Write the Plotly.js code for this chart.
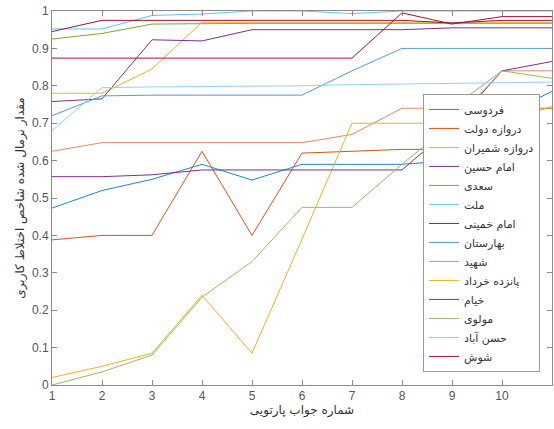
<!DOCTYPE html>
<html>
<head>
<meta charset="utf-8">
<script src="https://cdn.plot.ly/plotly-3.0.1.min.js"></script>
<style>html,body{margin:0;padding:0;background:#fff;} #chart{width:554px;height:429px;}</style>
</head>
<body>
<div id="chart"></div>
<script>
// x: Pareto answer number
const xValues = [1, 2, 3, 4, 5, 6, 7, 8, 9, 10, 11];

// station names (legend order)
const stationNames = [
  "فردوسی", "دروازه دولت", "دروازه شمیران", "امام حسین", "سعدی", "ملت", "امام خمینی",
  "بهارستان", "شهید", "پانزده خرداد", "خیام", "مولوی", "حسن آباد", "شوش"
];

// normalized land-use mix index per station
const ferdowsi      = [0.473, 0.52, 0.55, 0.59, 0.548, 0.59, 0.59, 0.59, 0.60, 0.72, 0.785];
const darvazehDowlat= [0.388, 0.40, 0.40, 0.625, 0.40, 0.62, 0.625, 0.63, 0.63, 0.74, 0.74];
const darvazehShemiran=[0.78, 0.78, 0.845, 0.97, 0.97, 0.97, 0.97, 0.97, 0.97, 0.97, 0.97];
const emamHossein   = [0.758, 0.765, 0.923, 0.92, 0.95, 0.95, 0.95, 0.95, 0.955, 0.955, 0.955];
const saadi         = [0.925, 0.94, 0.965, 0.967, 0.967, 0.967, 0.967, 0.967, 0.967, 0.967, 0.967];
const mellat        = [0.952, 0.952, 0.988, 0.992, 1.0, 1.0, 0.993, 1.0, 1.0, 1.0, 1.0];
const emamKhomeini  = [0.945, 0.975, 0.975, 0.975, 0.975, 0.975, 0.975, 0.975, 0.968, 0.975, 0.975];
const baharestan    = [0.72, 0.773, 0.775, 0.775, 0.775, 0.775, 0.84, 0.90, 0.90, 0.90, 0.90];
const shahid        = [0.625, 0.648, 0.648, 0.648, 0.648, 0.648, 0.67, 0.74, 0.74, 0.84, 0.84];
const panzdahKhordad= [0.02, 0.05, 0.085, 0.24, 0.085, 0.39, 0.70, 0.70, 0.70, 0.70, 0.745];
const khayyam       = [0.557, 0.557, 0.562, 0.575, 0.575, 0.575, 0.575, 0.575, 0.69, 0.84, 0.865];
const molavi        = [0.0, 0.035, 0.08, 0.235, 0.33, 0.475, 0.475, 0.59, 0.70, 0.84, 0.82];
const hasanAbad     = [0.68, 0.795, 0.797, 0.798, 0.80, 0.80, 0.803, 0.805, 0.805, 0.807, 0.81];
const shoush        = [0.874, 0.874, 0.874, 0.874, 0.874, 0.874, 0.874, 0.995, 0.965, 0.985, 0.985];

const seriesValues = [ferdowsi, darvazehDowlat, darvazehShemiran, emamHossein, saadi, mellat, emamKhomeini,
  baharestan, shahid, panzdahKhordad, khayyam, molavi, hasanAbad, shoush];

const lineColors = ["#1f86c6", "#D95319", "#EDB120", "#7E2F8E", "#77AC30", "#62c4ef", "#A2142F",
  "#4f9fd4", "#e58a66", "#EDB120", "#7E2F8E", "#93bd5c", "#8fd3f2", "#A2142F"];

const xTickVals = [1, 2, 3, 4, 5, 6, 7, 8, 9, 10, 11];
const yTickVals = [0, 0.1, 0.2, 0.3, 0.4, 0.5, 0.6, 0.7, 0.8, 0.9, 1];

const traces = seriesValues.map((vals, i) => ({
  type: "scatter",
  mode: "lines",
  x: xValues,
  y: vals,
  name: stationNames[i],
  line: {color: lineColors[i], width: 1}
}));

const axisCommon = {
  showline: true, mirror: "ticks", linecolor: "#8a8a8a", linewidth: 1,
  ticks: "inside", ticklen: 5, tickcolor: "#8a8a8a",
  showgrid: false, zeroline: false,
  tickfont: {family: "Liberation Sans, DejaVu Sans, sans-serif", size: 12, color: "#555"}
};

const layout = {
  width: 554, height: 429,
  margin: {l: 52, r: 2, t: 11, b: 44},
  paper_bgcolor: "#fff", plot_bgcolor: "#fff",
  font: {family: "DejaVu Sans, sans-serif", color: "#333"},
  xaxis: Object.assign({}, axisCommon, {
    range: [1, 11], tickvals: xTickVals, ticktext: xTickVals.map(String),
    title: {text: "شماره جواب پارتویی", font: {size: 12, color: "#333"}, standoff: 2}
  }),
  yaxis: Object.assign({}, axisCommon, {
    range: [0, 1], tickvals: yTickVals, ticktext: yTickVals.map(v => String(v)),
    title: {text: "مقدار نرمال شده شاخص اختلاط کاربری", font: {size: 12, color: "#333"}, standoff: 4}
  }),
  showlegend: true,
  legend: {
    x: 0.976, xanchor: "right", y: 0.035, yanchor: "bottom",
    bgcolor: "#fff", bordercolor: "#999", borderwidth: 1,
    font: {family: "DejaVu Sans, sans-serif", size: 11, color: "#333"},
    tracegroupgap: 0
  }
};

Plotly.newPlot("chart", traces, layout, {staticPlot: true, displayModeBar: false});
</script>
</body>
</html>
